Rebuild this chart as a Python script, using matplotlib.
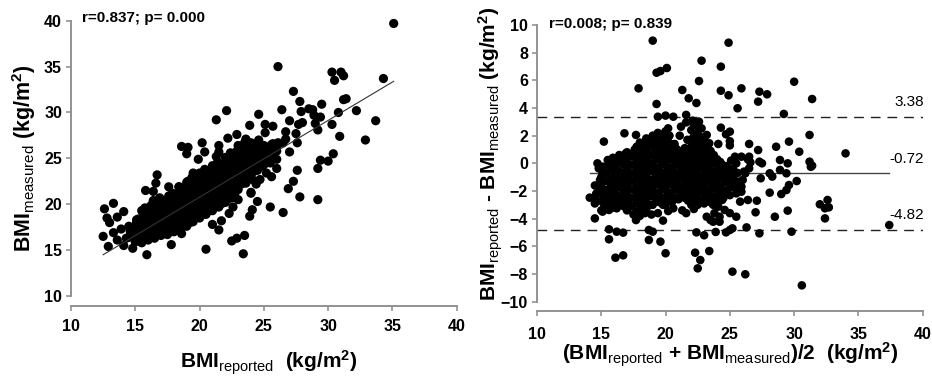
import matplotlib
matplotlib.use("Agg")
import matplotlib.pyplot as plt
import numpy as np

plt.rcParams['font.family'] = ['Liberation Sans', 'DejaVu Sans']
plt.rcParams['mathtext.fontset'] = 'custom'
plt.rcParams['mathtext.rm'] = 'Liberation Sans'
plt.rcParams['mathtext.bf'] = 'Liberation Sans:bold'
plt.rcParams['mathtext.it'] = 'Liberation Sans:italic'

# ---------------- data: left panel (BMI reported vs BMI measured) ----------------
left_outliers = [
    (35.1, 39.7), (26.1, 35.0), (30.3, 34.4), (30.5, 33.5), (31.0, 34.4), (31.2, 34.0), (34.3, 33.7),
    (27.3, 32.3), (31.2, 31.4), (31.4, 31.5), (27.8, 31.2), (29.5, 30.9), (26.4, 30.3), (22.1, 30.2),
    (21.3, 29.2), (32.2, 30.2), (30.8, 30.0), (33.7, 29.1), (32.9, 27.0), (30.9, 27.4), (30.3, 28.7),
    (29.4, 29.5), (28.5, 30.4), (28.8, 30.3), (27.9, 30.1), (28.9, 29.7), (28.0, 28.9), (27.7, 28.7),
    (29.2, 28.1), (29.0, 28.8), (27.0, 29.1), (26.7, 27.9), (27.5, 27.7), (27.6, 26.7), (27.0, 25.7),
    (29.4, 24.8), (30.0, 24.7), (30.4, 25.5), (29.2, 23.9), (27.6, 23.7), (27.3, 22.5), (26.9, 21.7),
    (27.8, 20.8), (29.2, 20.5), (26.5, 19.1), (25.5, 19.7), (24.5, 20.3), (26.0, 23.9), (25.7, 25.4),
    (24.6, 29.8), (23.9, 28.6), (25.1, 28.7), (25.7, 28.5), (23.6, 27.1), (22.9, 27.6), (22.2, 27.2),
    (20.2, 26.7), (18.6, 26.3), (19.1, 26.2), (19.0, 25.5), (20.4, 25.7), (19.9, 24.9), (21.5, 26.4),
    (21.3, 25.2), (21.5, 25.7), (25.1, 27.8), (25.7, 26.6), (26.1, 26.7), (26.5, 26.7), (26.7, 27.1),
    (25.3, 25.7), (25.0, 25.2), (25.5, 24.5), (26.0, 24.9), (25.2, 23.4), (25.6, 23.0), (24.7, 22.7),
    (24.4, 22.2), (24.0, 21.2),
    (12.6, 19.5), (12.8, 18.5), (13.0, 18.0), (13.3, 20.1), (13.6, 18.6), (14.1, 19.2), (13.3, 16.9),
    (13.6, 16.1), (12.5, 16.5), (12.9, 15.4), (14.1, 15.5), (14.8, 15.2), (14.5, 17.6), (15.1, 18.3),
    (15.9, 14.5), (15.4, 16.5), (13.9, 17.3), (14.3, 16.3),
    (20.5, 15.1), (22.5, 16.0), (22.9, 16.3), (23.5, 16.6), (23.4, 14.6), (21.5, 17.2), (21.0, 17.8),
    (21.7, 18.2), (22.3, 19.0), (22.6, 19.7), (23.0, 20.5), (23.9, 18.7), (24.1, 19.4), (24.0, 21.3),
    (24.1, 22.7), (23.6, 22.3), (17.8, 15.6), (16.7, 18.0), (18.6, 16.8),
    (16.7, 23.2), (16.6, 22.3), (15.8, 21.5), (16.4, 21.4), (17.6, 21.9), (18.4, 21.9), (19.1, 22.5),
    (19.5, 23.4),
]
left_core = [
    (14.5, 16.4), (14.6, 17.1),
    (15.0, 15.9), (15.1, 16.6), (15.0, 17.3), (15.1, 18.0),
    (15.5, 15.8), (15.6, 16.5), (15.5, 17.2), (15.4, 17.9), (15.6, 18.6), (15.5, 19.3),
    (16.0, 16.1), (16.1, 16.8), (16.0, 17.5), (15.9, 18.2), (16.1, 18.9), (16.0, 19.6),
    (16.5, 16.3), (16.6, 17.0), (16.4, 17.7), (16.5, 18.4), (16.6, 19.1), (16.5, 19.8), (16.4, 20.4),
    (17.0, 16.6), (17.1, 17.3), (16.9, 18.0), (17.0, 18.7), (17.1, 19.4), (17.0, 20.1), (16.9, 20.7),
    (17.5, 16.7), (17.4, 17.4), (17.6, 18.1), (17.5, 18.8), (17.4, 19.5), (17.5, 20.2), (17.6, 20.9),
    (18.0, 17.0), (18.1, 17.7), (17.9, 18.4), (18.0, 19.1), (18.1, 19.8), (18.0, 20.5), (17.9, 21.2),
    (18.5, 17.2), (18.4, 17.9), (18.6, 18.6), (18.5, 19.3), (18.4, 20.0), (18.6, 20.7), (18.5, 21.4), (18.4, 21.9),
    (19.0, 17.6), (19.1, 18.3), (18.9, 19.0), (19.0, 19.7), (19.1, 20.4), (19.0, 21.1), (18.9, 21.8), (19.0, 22.4),
    (19.5, 18.1), (19.4, 18.8), (19.6, 19.5), (19.5, 20.2), (19.4, 20.9), (19.6, 21.6), (19.5, 22.3), (19.4, 22.9),
    (20.0, 18.5), (20.1, 19.2), (19.9, 19.9), (20.0, 20.6), (20.1, 21.3), (20.0, 22.0), (19.9, 22.7), (20.0, 23.4),
    (20.5, 18.9), (20.4, 19.6), (20.6, 20.3), (20.5, 21.0), (20.4, 21.7), (20.6, 22.4), (20.5, 23.1), (20.4, 23.8),
    (21.0, 19.3), (21.1, 20.0), (20.9, 20.7), (21.0, 21.4), (21.1, 22.1), (21.0, 22.8), (20.9, 23.5), (21.0, 24.2),
    (21.5, 19.7), (21.4, 20.4), (21.6, 21.1), (21.5, 21.8), (21.4, 22.5), (21.6, 23.2), (21.5, 23.9), (21.4, 24.6),
    (22.0, 20.2), (22.1, 20.9), (21.9, 21.6), (22.0, 22.3), (22.1, 23.0), (22.0, 23.7), (21.9, 24.4), (22.0, 25.1),
    (22.5, 20.7), (22.4, 21.4), (22.6, 22.1), (22.5, 22.8), (22.4, 23.5), (22.6, 24.2), (22.5, 24.9), (22.4, 25.6),
    (23.0, 21.6), (23.1, 22.3), (22.9, 23.0), (23.0, 23.7), (23.1, 24.4), (23.0, 25.1), (22.9, 25.8), (23.0, 26.4),
    (23.5, 22.6), (23.4, 23.3), (23.6, 24.0), (23.5, 24.7), (23.4, 25.4), (23.6, 26.1), (23.5, 26.7),
    (24.0, 23.2), (24.1, 23.9), (23.9, 24.6), (24.0, 25.3), (24.1, 26.0), (24.0, 26.7),
    (24.5, 23.7), (24.4, 24.4), (24.6, 25.1), (24.5, 25.8), (24.4, 26.5), (24.6, 27.0),
    (25.0, 24.3), (25.1, 25.0), (24.9, 25.7), (25.0, 26.4),
    (25.5, 25.2), (25.4, 25.9), (25.6, 26.5),
    (26.0, 25.8), (26.1, 26.5),
]
left_core_fill = [
    (15.25, 16.3), (15.25, 17.0), (15.25, 17.7), (15.25, 18.4),
    (15.75, 16.2), (15.75, 16.9), (15.75, 17.6), (15.75, 18.3), (15.75, 19.0), (15.75, 19.6),
    (16.25, 16.5), (16.25, 17.2), (16.25, 17.9), (16.25, 18.6), (16.25, 19.3), (16.25, 19.9),
    (16.75, 16.7), (16.75, 17.4), (16.75, 18.1), (16.75, 18.8), (16.75, 19.5), (16.75, 20.2),
    (17.25, 16.9), (17.25, 17.6), (17.25, 18.3), (17.25, 19.0), (17.25, 19.7), (17.25, 20.4),
    (17.75, 17.1), (17.75, 17.8), (17.75, 18.5), (17.75, 19.2), (17.75, 19.9), (17.75, 20.6),
    (18.25, 17.4), (18.25, 18.1), (18.25, 18.8), (18.25, 19.5), (18.25, 20.2), (18.25, 20.9),
    (18.75, 17.7), (18.75, 18.4), (18.75, 19.1), (18.75, 19.8), (18.75, 20.5), (18.75, 21.2), (18.75, 21.8),
    (19.25, 18.0), (19.25, 18.7), (19.25, 19.4), (19.25, 20.1), (19.25, 20.8), (19.25, 21.5), (19.25, 22.2),
    (19.75, 18.6), (19.75, 19.3), (19.75, 20.0), (19.75, 20.7), (19.75, 21.4), (19.75, 22.1), (19.75, 22.8),
    (20.25, 18.9), (20.25, 19.6), (20.25, 20.3), (20.25, 21.0), (20.25, 21.7), (20.25, 22.4), (20.25, 23.1),
    (20.75, 19.3), (20.75, 20.0), (20.75, 20.7), (20.75, 21.4), (20.75, 22.1), (20.75, 22.8), (20.75, 23.5),
    (21.25, 19.7), (21.25, 20.4), (21.25, 21.1), (21.25, 21.8), (21.25, 22.5), (21.25, 23.2), (21.25, 23.9),
    (21.75, 20.1), (21.75, 20.8), (21.75, 21.5), (21.75, 22.2), (21.75, 22.9), (21.75, 23.6), (21.75, 24.3),
    (22.25, 20.6), (22.25, 21.3), (22.25, 22.0), (22.25, 22.7), (22.25, 23.4), (22.25, 24.1), (22.25, 24.8),
    (22.75, 21.2), (22.75, 21.9), (22.75, 22.6), (22.75, 23.3), (22.75, 24.0), (22.75, 24.7), (22.75, 25.4),
    (23.25, 22.2), (23.25, 22.9), (23.25, 23.6), (23.25, 24.3), (23.25, 25.0), (23.25, 25.7),
    (23.75, 23.0), (23.75, 23.7), (23.75, 24.4), (23.75, 25.1), (23.75, 25.8), (23.75, 26.4),
    (24.25, 23.6), (24.25, 24.3), (24.25, 25.0), (24.25, 25.7), (24.25, 26.4),
    (24.75, 24.1), (24.75, 24.8), (24.75, 25.5), (24.75, 26.2),
    (25.25, 24.8), (25.25, 25.5), (25.25, 26.2),
]
fit_x = [12.5, 35.1]          # regression line end points (reported)
fit_y = [14.5, 33.4]          # regression line end points (measured)
left_note = "r=0.837; p= 0.000"

# ---------------- data: right panel (Bland-Altman) ----------------
right_outliers = [
    (19.0, 8.87), (24.9, 8.72), (22.8, 7.42), (24.3, 6.99), (20.1, 6.89), (19.3, 6.55), (19.6, 6.67),
    (22.6, 5.95), (30.0, 5.90), (17.9, 5.42), (21.3, 5.30), (24.3, 5.25), (25.9, 5.42), (27.3, 5.18),
    (27.9, 4.99), (24.9, 4.92), (21.8, 4.70), (22.4, 4.36), (27.2, 4.46), (31.4, 4.65), (19.3, 4.29),
    (25.6, 3.98), (29.2, 3.57), (19.4, 3.37), (20.0, 3.45), (20.6, 3.37), (21.6, 3.50), (22.1, 3.08),
    (22.6, 3.01), (22.2, 2.77), (31.2, 2.05), (30.4, 0.84), (34.0, 0.72), (31.2, 0.12), (31.4, -0.17),
    (31.3, -0.25), (29.5, 0.00), (28.9, 0.24), (28.6, 1.20), (29.6, 1.57), (28.9, -0.48), (27.2, 0.96),
    (27.3, 0.12), (27.5, 0.00), (26.5, 0.48), (28.3, -0.96), (28.1, -0.72), (29.4, -0.72), (30.2, -1.28),
    (29.6, -1.57), (29.4, -1.93), (28.1, -2.12), (29.0, -2.22), (27.4, -1.08), (32.0, -2.96),
    (32.6, -2.65), (32.7, -3.18), (32.4, -3.25), (32.4, -3.98), (37.4, -4.46), (29.5, -3.42),
    (28.5, -3.86), (29.8, -4.94), (27.0, -3.54), (27.3, -5.06), (26.3, -4.63), (25.2, -4.70),
    (25.0, -4.82), (24.7, -4.99), (23.9, -4.96), (23.0, -5.20), (22.4, -4.99), (23.7, -4.22),
    (23.2, -3.86), (24.2, -4.22), (20.0, -6.50), (19.6, -5.66), (18.7, -5.54), (19.8, -4.14),
    (19.0, -4.94), (18.7, -4.82), (15.6, -5.49), (15.6, -4.77), (16.2, -4.94), (16.7, -5.01),
    (16.1, -6.82), (16.7, -6.65), (14.5, -3.98), (14.1, -2.48), (15.1, -3.49), (15.6, -3.37),
    (15.2, 1.57), (15.1, -0.24), (22.3, -6.46), (22.7, -6.99), (22.5, -7.59), (23.4, -6.34),
    (25.2, -7.83), (26.2, -8.02), (30.6, -8.82),
    (23.2, 2.05), (23.4, 1.45), (24.1, 1.40), (24.3, 2.58), (24.7, 2.10), (25.0, 2.29), (25.0, 1.60),
    (25.0, 1.30), (25.4, 0.48), (25.9, 0.48), (26.4, 0.29), (26.6, 0.07), (26.5, 1.40), (25.5, 0.00),
    (26.5, -0.36), (26.2, -0.72), (25.6, -1.33), (25.9, -1.69), (25.9, -2.05), (25.5, -2.17),
    (25.8, -2.77), (26.4, -2.65), (27.1, -2.70), (24.4, -2.65), (24.6, -3.37), (25.0, -3.60),
    (25.5, -3.86), (24.1, -3.13), (24.2, -3.86), (23.7, -3.00), (23.8, -3.60), (23.5, -4.10),
    (22.2, -3.30), (21.6, -3.60), (21.3, -3.40), (20.6, -3.25), (20.2, -3.45), (19.8, -3.00),
    (19.4, -3.60), (18.9, -3.70), (18.4, -3.60), (17.8, -3.86), (17.7, -4.10), (16.9, -3.18),
    (16.7, -2.60), (18.0, -2.94), (18.2, -3.25),
    (19.0, 2.00), (19.4, 2.20), (19.8, 2.05), (20.0, 2.30), (20.2, 2.53), (20.3, 2.00), (21.1, 2.00),
    (21.7, 1.70), (22.4, 2.30), (22.8, 2.53), (23.0, 1.80), (22.5, 3.00), (21.6, 2.96), (21.2, 2.65),
    (20.7, 1.40), (16.8, 2.17), (17.7, 2.05), (18.5, 1.45), (16.9, 0.72), (16.4, 0.60), (15.5, 0.24),
    (14.7, 0.00), (14.8, -0.36), (15.1, -0.72), (14.9, -1.20), (14.8, -1.57), (14.7, -2.12),
    (14.6, -2.65), (15.1, -2.17), (15.2, -2.65), (15.6, -2.40), (16.0, -2.90), (16.2, -3.25),
    (15.6, -2.94),
]
right_core = [
    (14.5, -2.9), (14.6, -2.2), (14.5, -1.6),
    (15.0, -3.4), (15.1, -2.8), (15.0, -2.2), (14.9, -1.6), (15.0, -1.0), (15.1, -0.4),
    (15.5, -3.1), (15.4, -2.5), (15.6, -1.9), (15.5, -1.3), (15.4, -0.7), (15.6, -0.1),
    (16.0, -3.2), (16.1, -2.6), (15.9, -2.0), (16.0, -1.4), (16.1, -0.8), (16.0, -0.2), (15.9, 0.4),
    (16.5, -3.0), (16.4, -2.4), (16.6, -1.8), (16.5, -1.2), (16.4, -0.6), (16.6, 0.0), (16.5, 0.5),
    (17.0, -3.4), (17.1, -2.8), (16.9, -2.2), (17.0, -1.6), (17.1, -1.0), (17.0, -0.4), (16.9, 0.2), (17.0, 0.8),
    (17.5, -3.7), (17.4, -3.1), (17.6, -2.5), (17.5, -1.9), (17.4, -1.3), (17.6, -0.7), (17.5, -0.1), (17.4, 0.5), (17.6, 1.0),
    (18.0, -3.8), (18.1, -3.2), (17.9, -2.6), (18.0, -2.0), (18.1, -1.4), (18.0, -0.8), (17.9, -0.2), (18.0, 0.4), (18.1, 1.0), (18.0, 1.5),
    (18.5, -3.3), (18.4, -2.7), (18.6, -2.1), (18.5, -1.5), (18.4, -0.9), (18.6, -0.3), (18.5, 0.3), (18.4, 0.9), (18.6, 1.5), (18.5, 1.8),
    (19.0, -3.0), (19.1, -2.4), (18.9, -1.8), (19.0, -1.2), (19.1, -0.6), (19.0, 0.0), (18.9, 0.6), (19.0, 1.2), (19.1, 1.8),
    (19.5, -2.8), (19.4, -2.2), (19.6, -1.6), (19.5, -1.0), (19.4, -0.4), (19.6, 0.2), (19.5, 0.8), (19.4, 1.4), (19.6, 2.0),
    (20.0, -3.0), (20.1, -2.4), (19.9, -1.8), (20.0, -1.2), (20.1, -0.6), (20.0, 0.0), (19.9, 0.6), (20.0, 1.2), (20.1, 1.8), (20.0, 2.3),
    (20.5, -2.8), (20.4, -2.2), (20.6, -1.6), (20.5, -1.0), (20.4, -0.4), (20.6, 0.2), (20.5, 0.8), (20.4, 1.4),
    (21.0, -2.6), (21.1, -2.0), (20.9, -1.4), (21.0, -0.8), (21.1, -0.2), (21.0, 0.4), (20.9, 1.0),
    (21.5, -2.5), (21.4, -1.9), (21.6, -1.3), (21.5, -0.7), (21.4, -0.1), (21.6, 0.5), (21.5, 1.1),
    (22.0, -3.0), (22.1, -2.4), (21.9, -1.8), (22.0, -1.2), (22.1, -0.6), (22.0, 0.0), (21.9, 0.6), (22.0, 1.2), (22.1, 1.8), (22.0, 2.4),
    (22.5, -3.0), (22.4, -2.4), (22.6, -1.8), (22.5, -1.2), (22.4, -0.6), (22.6, 0.0), (22.5, 0.6), (22.4, 1.3), (22.6, 2.0), (22.5, 2.6),
    (23.0, -2.9), (23.1, -2.3), (22.9, -1.7), (23.0, -1.1), (23.1, -0.5), (23.0, 0.1), (22.9, 0.7), (23.0, 1.4),
    (23.5, -2.8), (23.4, -2.2), (23.6, -1.6), (23.5, -1.0), (23.4, -0.4), (23.6, 0.2), (23.5, 0.9),
    (24.0, -2.7), (24.1, -2.1), (23.9, -1.5), (24.0, -0.9), (24.1, -0.3), (24.0, 0.3),
    (24.5, -2.5), (24.4, -1.9), (24.6, -1.3), (24.5, -0.7), (24.4, -0.1),
    (25.0, -2.3), (25.1, -1.7), (24.9, -1.1), (25.0, -0.5), (25.1, 0.2),
    (25.5, -1.9), (25.4, -1.3), (25.6, -0.7),
    (26.0, -1.2), (26.1, -0.6),
]
right_core_fill = [
    (15.25, -3.1), (15.25, -2.5), (15.25, -1.9), (15.25, -1.3), (15.25, -0.7),
    (15.75, -2.9), (15.75, -2.3), (15.75, -1.7), (15.75, -1.1), (15.75, -0.5), (15.75, 0.1),
    (16.25, -2.9), (16.25, -2.3), (16.25, -1.7), (16.25, -1.1), (16.25, -0.5), (16.25, 0.1),
    (16.75, -3.1), (16.75, -2.5), (16.75, -1.9), (16.75, -1.3), (16.75, -0.7), (16.75, -0.1), (16.75, 0.5),
    (17.25, -3.1), (17.25, -2.5), (17.25, -1.9), (17.25, -1.3), (17.25, -0.7), (17.25, -0.1), (17.25, 0.5),
    (17.75, -3.5), (17.75, -2.9), (17.75, -2.3), (17.75, -1.7), (17.75, -1.1), (17.75, -0.5), (17.75, 0.1), (17.75, 0.7), (17.75, 1.2),
    (18.25, -3.5), (18.25, -2.9), (18.25, -2.3), (18.25, -1.7), (18.25, -1.1), (18.25, -0.5), (18.25, 0.1), (18.25, 0.7), (18.25, 1.3),
    (18.75, -3.0), (18.75, -2.4), (18.75, -1.8), (18.75, -1.2), (18.75, -0.6), (18.75, 0.0), (18.75, 0.6), (18.75, 1.2), (18.75, 1.7),
    (19.25, -2.7), (19.25, -2.1), (19.25, -1.5), (19.25, -0.9), (19.25, -0.3), (19.25, 0.3), (19.25, 0.9), (19.25, 1.5),
    (19.75, -2.5), (19.75, -1.9), (19.75, -1.3), (19.75, -0.7), (19.75, -0.1), (19.75, 0.5), (19.75, 1.1), (19.75, 1.7),
    (20.25, -2.7), (20.25, -2.1), (20.25, -1.5), (20.25, -0.9), (20.25, -0.3), (20.25, 0.3), (20.25, 0.9), (20.25, 1.5), (20.25, 2.0),
    (20.75, -2.5), (20.75, -1.9), (20.75, -1.3), (20.75, -0.7), (20.75, -0.1), (20.75, 0.5), (20.75, 1.1),
    (21.25, -2.3), (21.25, -1.7), (21.25, -1.1), (21.25, -0.5), (21.25, 0.1), (21.25, 0.7),
    (21.75, -2.7), (21.75, -2.1), (21.75, -1.5), (21.75, -0.9), (21.75, -0.3), (21.75, 0.3), (21.75, 0.9),
    (22.25, -2.7), (22.25, -2.1), (22.25, -1.5), (22.25, -0.9), (22.25, -0.3), (22.25, 0.3), (22.25, 0.9), (22.25, 1.5), (22.25, 2.1),
    (22.75, -2.7), (22.75, -2.1), (22.75, -1.5), (22.75, -0.9), (22.75, -0.3), (22.75, 0.3), (22.75, 1.0), (22.75, 1.7),
    (23.25, -2.5), (23.25, -1.9), (23.25, -1.3), (23.25, -0.7), (23.25, -0.1), (23.25, 0.5), (23.25, 1.1),
    (23.75, -2.4), (23.75, -1.8), (23.75, -1.2), (23.75, -0.6), (23.75, 0.0), (23.75, 0.6),
    (24.25, -2.3), (24.25, -1.7), (24.25, -1.1), (24.25, -0.5), (24.25, 0.1),
    (24.75, -2.0), (24.75, -1.4), (24.75, -0.8), (24.75, -0.2),
    (25.25, -1.6), (25.25, -1.0), (25.25, -0.4),
]
mean_diff = -0.72
upper_loa = 3.38
lower_loa = -4.82
mean_line_x = [14.1, 37.4]
right_note = "r=0.008; p= 0.839"

x_ticks = [10, 15, 20, 25, 30, 35, 40]
left_yticks = [10, 15, 20, 25, 30, 35, 40]
right_yticks = [-10, -8, -6, -4, -2, 0, 2, 4, 6, 8, 10]

# ---------------- figure ----------------
fig = plt.figure(figsize=(9.32, 3.78), dpi=100)
axL = fig.add_axes([0.0762, 0.2169, 0.4138, 0.7283])
axR = fig.add_axes([0.5762, 0.2019, 0.4138, 0.7320])

spine_col = '#8a8a8a'


def style(ax, yticks, ylim, xpad):
    ax.set_xlim(10, 40)
    ax.set_ylim(*ylim)
    ax.set_xticks(x_ticks)
    ax.set_yticks(yticks)
    for s in ['top', 'right']:
        ax.spines[s].set_visible(False)
    for s in ['left', 'bottom']:
        ax.spines[s].set_color(spine_col)
        ax.spines[s].set_linewidth(1.3)
    ax.spines['bottom'].set_position(('outward', 7))
    ax.tick_params(axis='both', direction='out', length=3.5, width=1.1, colors=spine_col,
                   labelcolor='black')
    ax.tick_params(axis='x', pad=xpad)
    ax.tick_params(axis='y', pad=3)
    for lab in ax.get_xticklabels() + ax.get_yticklabels():
        lab.set_fontsize(11.5)
        lab.set_fontweight('bold')


# left panel
left_all = left_outliers + left_core + left_core_fill
lx = [p[0] for p in left_all]
ly = [p[1] for p in left_all]
axL.plot(fit_x, fit_y, color='#333333', lw=0.8, zorder=3)
axL.scatter(lx, ly, s=44, color='black', edgecolors='none', zorder=2, clip_on=False)
style(axL, left_yticks, (10, 40), 6)
axL.text(10.85, 40.3, left_note, fontsize=11, fontweight='bold', va='center', ha='left')
axL.set_xlabel(r'BMI$_{\mathrm{reported}}$  (kg/m$^{\mathbf{2}}$)', fontsize=15, fontweight='bold')
axL.set_ylabel(r'BMI$_{\mathrm{measured}}$ (kg/m$^{\mathbf{2}}$)', fontsize=15.5, fontweight='bold')
axL.xaxis.set_label_coords(0.513, -0.19)
axL.yaxis.set_label_coords(-0.086, 0.5)

# right panel
right_all = right_outliers + right_core + right_core_fill
rx = [p[0] for p in right_all]
ry = [p[1] for p in right_all]
axR.axhline(upper_loa, color='#222222', lw=1.0, ls=(0, (7, 5)), zorder=1)
axR.axhline(lower_loa, color='#222222', lw=1.0, ls=(0, (7, 5)), zorder=1)
axR.plot(mean_line_x, [mean_diff, mean_diff], color='#444444', lw=1.0, zorder=1)
axR.scatter(rx, ry, s=38, color='black', edgecolors='none', zorder=2, clip_on=False)
style(axR, right_yticks, (-10, 10), 7.5)
for val, txt in [(upper_loa, '3.38'), (mean_diff, '-0.72'), (lower_loa, '-4.82')]:
    axR.text(40.1, val + 0.55, txt, fontsize=11, ha='right', va='bottom')
axR.text(10.9, 10.07, right_note, fontsize=11, fontweight='bold', va='center', ha='left')
axR.set_xlabel(r'(BMI$_{\mathrm{reported}}$ + BMI$_{\mathrm{measured}}$)/2  (kg/m$^{\mathbf{2}}$)',
               fontsize=15, fontweight='bold')
axR.set_ylabel(r'BMI$_{\mathrm{reported}}$ - BMI$_{\mathrm{measured}}$ (kg/m$^{\mathbf{2}}$)',
               fontsize=15, fontweight='bold')
axR.xaxis.set_label_coords(0.5, -0.14)
axR.yaxis.set_label_coords(-0.082, 0.535)

fig.savefig('out.png', dpi=100)
